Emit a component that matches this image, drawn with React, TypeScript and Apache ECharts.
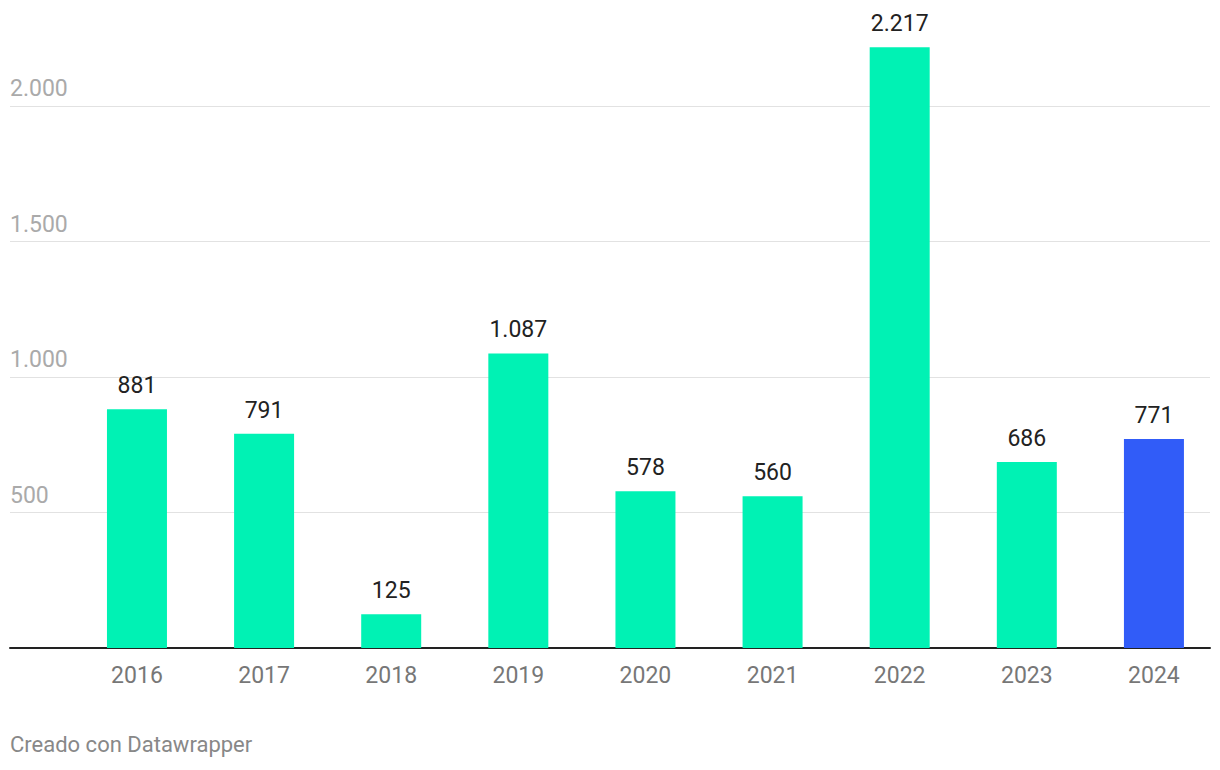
import React, { useEffect, useRef } from "react";
import * as echarts from "echarts";

const years = ["2016", "2017", "2018", "2019", "2020", "2021", "2022", "2023", "2024"];
const values = [881, 791, 125, 1087, 578, 560, 2217, 686, 771];
const highlightYear = "2024";
const yTicks = [0, 500, 1000, 1500, 2000];

const GREEN = "#00F2B4";
const BLUE = "#315CF8";
const FONT = "Roboto";

const fmt = (v: number) => String(Math.round(v)).replace(/\B(?=(\d{3})+(?!\d))/g, ".");

export default function App() {
  const ref = useRef<HTMLDivElement>(null);
  useEffect(() => {
    if (!ref.current) return;
    const chart = echarts.init(ref.current, undefined, { renderer: "svg" });
    const yMax = yTicks[yTicks.length - 1];
    chart.setOption({
      animation: false,
      textStyle: { fontFamily: FONT },
      grid: [
        { left: 10, right: 10, top: 106, bottom: 122 },
        { left: 73.4, right: 2.5, top: 106, bottom: 122 },
      ],
      xAxis: [
        {
          gridIndex: 0,
          type: "value",
          min: 0,
          max: 1,
          axisLine: { show: true, onZero: false, lineStyle: { color: "#222", width: 2 } },
          axisTick: { show: false },
          axisLabel: { show: false },
          splitLine: { show: false },
        },
        {
          gridIndex: 1,
          type: "category",
          data: years,
          axisLine: { show: false },
          axisTick: { show: false },
          axisLabel: { color: "#777", fontSize: 23, fontFamily: FONT, margin: 16 },
        },
      ],
      yAxis: [
        {
          gridIndex: 0,
          type: "value",
          min: 0,
          max: yMax,
          interval: 500,
          axisLine: { show: false },
          axisTick: { show: false },
          axisLabel: {
            inside: true,
            margin: 0,
            verticalAlign: "bottom",
            padding: [0, 0, 6, 0],
            color: "#aaa",
            fontSize: 23,
            fontFamily: FONT,
            formatter: (v: number) => (v === 0 ? "" : fmt(v)),
          },
          splitLine: { show: true, lineStyle: { color: "#e2e2e2", width: 1 } },
        },
        {
          gridIndex: 1,
          type: "value",
          min: 0,
          max: yMax,
          show: false,
          splitLine: { show: false },
        },
      ],
      series: [
        {
          type: "bar",
          xAxisIndex: 1,
          yAxisIndex: 1,
          clip: false,
          barWidth: 60,
          data: values.map((v, i) => ({
            value: v,
            itemStyle: { color: years[i] === highlightYear ? BLUE : GREEN },
          })),
          label: {
            show: true,
            position: "top",
            distance: 12,
            color: "#222",
            fontSize: 23,
            fontFamily: FONT,
            formatter: (p: any) => fmt(p.value),
          },
        },
      ],
      graphic: [
        {
          type: "text",
          left: 10,
          top: 733,
          style: { text: "Creado con Datawrapper", fill: "#888", fontSize: 22, fontFamily: FONT },
        },
      ],
    });
    return () => chart.dispose();
  }, []);
  return (
    <div
      ref={ref}
      style={{ position: "fixed", left: 0, top: 0, width: 1220, height: 770, background: "#fff" }}
    />
  );
}
